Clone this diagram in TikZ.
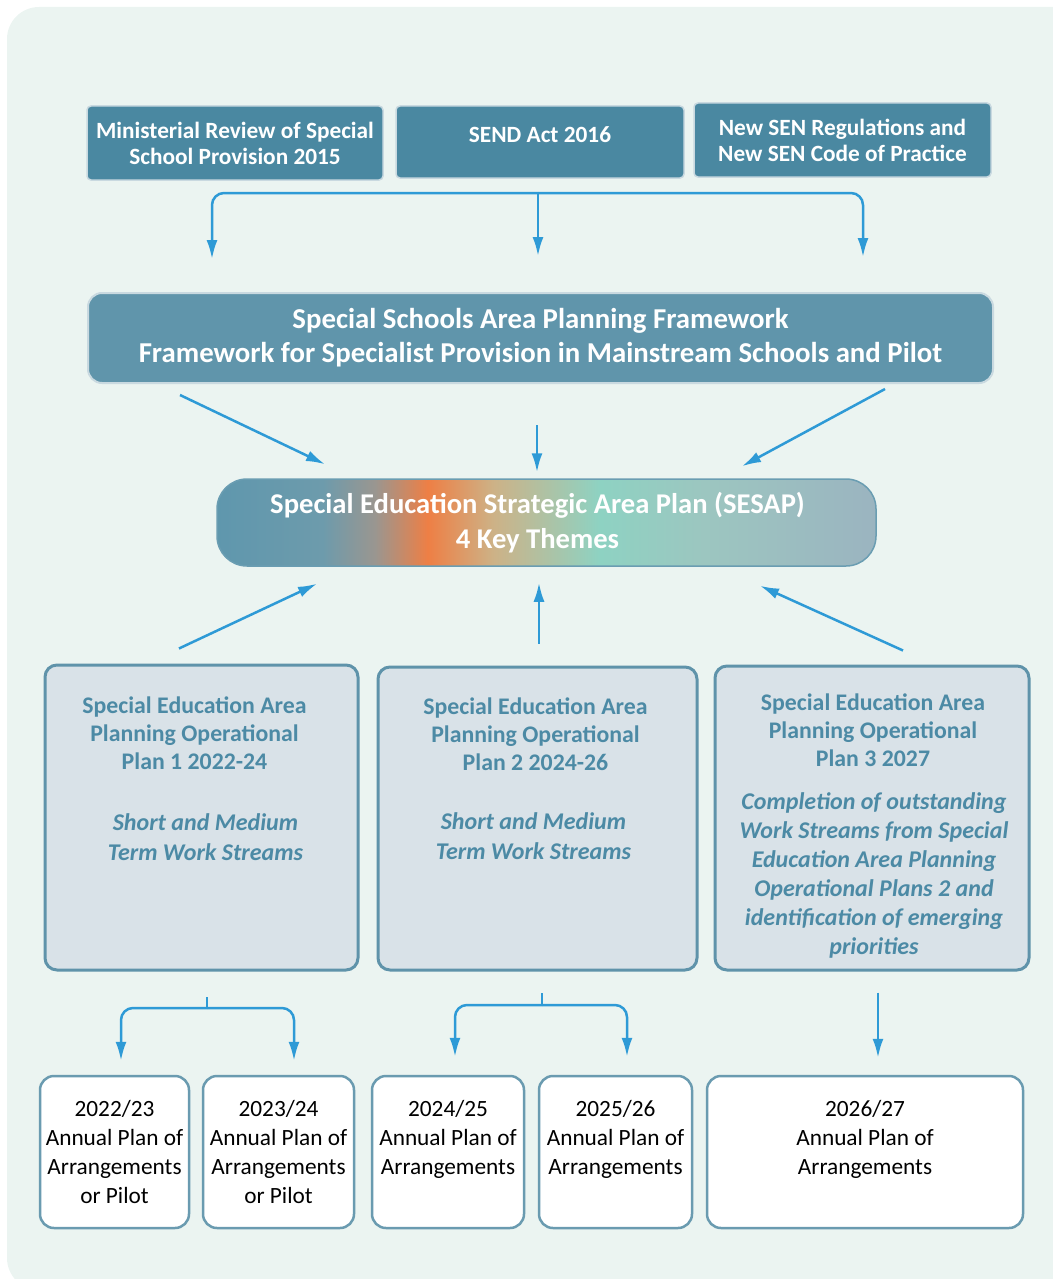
\documentclass[tikz,border=0pt]{standalone}
\usepackage{fontspec}
\setmainfont{Carlito}
\usetikzlibrary{arrows.meta,positioning}

\definecolor{bgmint}{HTML}{EBF4F1}
\definecolor{topfill}{HTML}{4A88A1}
\definecolor{fwfill}{HTML}{6095AB}
\definecolor{paleedge}{HTML}{C9D9E0}
\definecolor{planfill}{HTML}{D9E2E8}
\definecolor{planedge}{HTML}{5F93AA}
\definecolor{plantext}{HTML}{4C8AA5}
\definecolor{annedge}{HTML}{6A9BB0}
\definecolor{arrowblue}{HTML}{2E9AD6}
\definecolor{sesapedge}{HTML}{6A9DB2}
% gradient stops of the strategic plan
\definecolor{shsteel}{HTML}{5F97AD}
\definecolor{shsteelb}{HTML}{6D9BAC}
\definecolor{shgrey}{HTML}{9A9690}
\definecolor{shorange}{HTML}{EE7F45}
\definecolor{shtan}{HTML}{CDB287}
\definecolor{shmint}{HTML}{8ED2C2}
\definecolor{shsage}{HTML}{9CC6C0}
\definecolor{shgreyblue}{HTML}{9BB4C0}

\pgfdeclarehorizontalshading{sesapshade}{100bp}{%
  color(0bp)=(shsteel); color(25bp)=(shsteel); color(33bp)=(shsteelb);
  color(37bp)=(shgrey); color(41bp)=(shorange); color(46bp)=(shtan);
  color(54bp)=(shmint); color(62bp)=(shsage); color(75bp)=(shgreyblue);
  color(100bp)=(shgreyblue)}

\tikzset{
  topbox/.style={draw=paleedge, line width=1.5pt, fill=topfill, rounded corners=4pt,
    text=white, align=center, font=\fontsize{23.3}{26}\selectfont\bfseries, inner sep=0pt},
  fwbox/.style={draw=paleedge, line width=2pt, fill=fwfill, rounded corners=14pt,
    text=white, align=center, font=\fontsize{28.8}{34}\selectfont\bfseries, inner sep=0pt},
  sesapbox/.style={draw=sesapedge, line width=1.5pt, shading=sesapshade, rounded corners=30pt,
    text=white, align=center, font=\fontsize{28.6}{35}\selectfont\bfseries, inner sep=0pt},
  planbox/.style={draw=planedge, line width=3pt, fill=planfill, rounded corners=12pt, inner sep=0pt},
  plantitle/.style={text=plantext, align=center, font=\fontsize{23.8}{28}\selectfont\bfseries, inner sep=0pt},
  planitalic/.style={text=plantext, align=center, font=\fontsize{24}{30}\selectfont\bfseries\itshape, inner sep=0pt},
  annbox/.style={draw=annedge, line width=2.5pt, fill=white, rounded corners=14pt, inner sep=0pt},
  anntext/.style={align=center, font=\fontsize{23.3}{29}\selectfont, inner sep=0pt},
  link/.style={draw=arrowblue, line width=2.5pt},
  arr/.style={link, -{Latex[length=19pt,width=11pt]}},
}

\begin{document}
\begin{tikzpicture}[x=1pt,y=-1pt]
\useasboundingbox (0,0) rectangle (1052,1279);
\fill[bgmint, rounded corners=32pt] (7,7) rectangle (1085,1290);

% sources
\node[topbox, minimum width=296pt, minimum height=74pt] (mr) at (235,143)
  {Ministerial Review of Special\\School Provision 2015};
\node[topbox, minimum width=288pt, minimum height=72pt] (sa) at (540,142)
  {\raisebox{7pt}[\height][\depth]{SEND Act 2016}};
\node[topbox, minimum width=297pt, minimum height=74pt] (sr) at (842.5,140)
  {New SEN Regulations and\\New SEN Code of Practice};

% frameworks
\node[fwbox, minimum width=905pt, minimum height=90pt] (fw) at (540.5,338)
  {Special Schools Area Planning Framework\\Framework for Specialist Provision in Mainstream Schools and Pilot};

% strategic plan
\node[sesapbox, minimum width=659pt, minimum height=87pt] (sesap) at (546.5,522.5)
  {Special Education Strategic Area Plan (SESAP)\hspace*{18pt}\\4 Key Themes\hspace*{18pt}};

% operational plans
\node[planbox, minimum width=313pt, minimum height=305pt] (p1) at (201.5,817.5) {};
\node[planbox, minimum width=319pt, minimum height=303pt] (p2) at (537.5,818.5) {};
\node[planbox, minimum width=314pt, minimum height=304pt] (p3) at (872,818) {};

\node[plantitle, anchor=north] (p1t) at ([xshift=-7pt,yshift=-33pt]p1.north)
  {Special Education Area\\Planning Operational\\Plan 1 2022-24};
\node[planitalic, anchor=north] (p1i) at ([xshift=4pt,yshift=-150pt]p1.north)
  {Short and Medium\\Term Work Streams};
\node[plantitle, anchor=north] (p2t) at ([xshift=-2pt,yshift=-32pt]p2.north)
  {Special Education Area\\Planning Operational\\Plan 2 2024-26};
\node[planitalic, anchor=north] (p2i) at ([xshift=-4pt,yshift=-147pt]p2.north)
  {Short and Medium\\Term Work Streams};
\node[plantitle, anchor=north] (p3t) at ([xshift=1pt,yshift=-29pt]p3.north)
  {Special Education Area\\Planning Operational\\Plan 3 2027};
\node[planitalic, anchor=north, font=\fontsize{24}{29}\selectfont\bfseries\itshape] (p3i)
  at ([xshift=2pt,yshift=-128pt]p3.north)
  {Completion of outstanding\\Work Streams from Special\\Education Area Planning\\Operational Plans 2 and\\identification of emerging\\priorities};

% annual plans
\node[annbox, minimum width=149pt, minimum height=152pt] (a1) at (114.5,1152) {};
\node[annbox, minimum width=151pt, minimum height=152pt] (a2) at (278.5,1152) {};
\node[annbox, minimum width=152pt, minimum height=152pt] (a3) at (448,1152) {};
\node[annbox, minimum width=153pt, minimum height=152pt] (a4) at (615.5,1152) {};
\node[annbox, minimum width=316pt, minimum height=152pt] (a5) at (865,1152) {};

\node[anntext, anchor=north] (a1t) at ([yshift=-25pt]a1.north) {2022/23\\Annual Plan of\\Arrangements\\or Pilot};
\node[anntext, anchor=north] (a2t) at ([yshift=-25pt]a2.north) {2023/24\\Annual Plan of\\Arrangements\\or Pilot};
\node[anntext, anchor=north] (a3t) at ([yshift=-25pt]a3.north) {2024/25\\Annual Plan of\\Arrangements};
\node[anntext, anchor=north] (a4t) at ([yshift=-25pt]a4.north) {2025/26\\Annual Plan of\\Arrangements};
\node[anntext, anchor=north] (a5t) at ([yshift=-25pt]a5.north) {2026/27\\Annual Plan of\\Arrangements};

% sources -> frameworks
\coordinate (tj) at (538,193);
\draw[arr, rounded corners=12pt] (tj) -| ([xshift=125pt,yshift=33pt]fw.north west);
\draw[arr] (tj) -- ([xshift=-2.5pt,yshift=36pt]fw.north);
\draw[arr, rounded corners=12pt] (tj) -| ([xshift=-131pt,yshift=35pt]fw.north east);

% frameworks -> strategic plan
\draw[arr] ([xshift=-360.5pt,yshift=-11pt]fw.south) -- ([xshift=-221.5pt,yshift=14pt]sesap.north);
\draw[arr] ([xshift=-3.5pt,yshift=-41pt]fw.south) -- ([xshift=-9.5pt,yshift=6pt]sesap.north);
\draw[arr] ([xshift=344.5pt,yshift=-5pt]fw.south) -- ([xshift=195.5pt,yshift=12pt]sesap.north);

% operational plans -> strategic plan
\draw[arr] ([xshift=-22.5pt,yshift=15pt]p1.north) -- ([xshift=-229.5pt,yshift=-17pt]sesap.south);
\draw[arr] ([xshift=1.5pt,yshift=22pt]p2.north) -- ([xshift=-7.5pt,yshift=-16pt]sesap.south);
\draw[arr] ([xshift=31pt,yshift=14pt]p3.north) -- ([xshift=213.5pt,yshift=-19pt]sesap.south);

% operational plans -> annual plans
\coordinate (j1) at (207,1008);
\draw[link] (j1) -- ([xshift=5.5pt,yshift=-25pt]p1.south);
\draw[arr, rounded corners=12pt] (j1) -| ([xshift=6.5pt,yshift=14pt]a1.north);
\draw[arr, rounded corners=12pt] (j1) -| ([xshift=15.5pt,yshift=14pt]a2.north);

\coordinate (j2) at (542,1005);
\draw[link] (j2) -- ([xshift=4.5pt,yshift=-21pt]p2.south);
\draw[arr, rounded corners=12pt] (j2) -| ([xshift=7pt,yshift=18pt]a3.north);
\draw[arr, rounded corners=12pt] (j2) -| ([xshift=11.5pt,yshift=18pt]a4.north);

\draw[arr] ([xshift=6pt,yshift=-21pt]p3.south) -- ([xshift=13pt,yshift=17pt]a5.north);
\end{tikzpicture}
\end{document}
